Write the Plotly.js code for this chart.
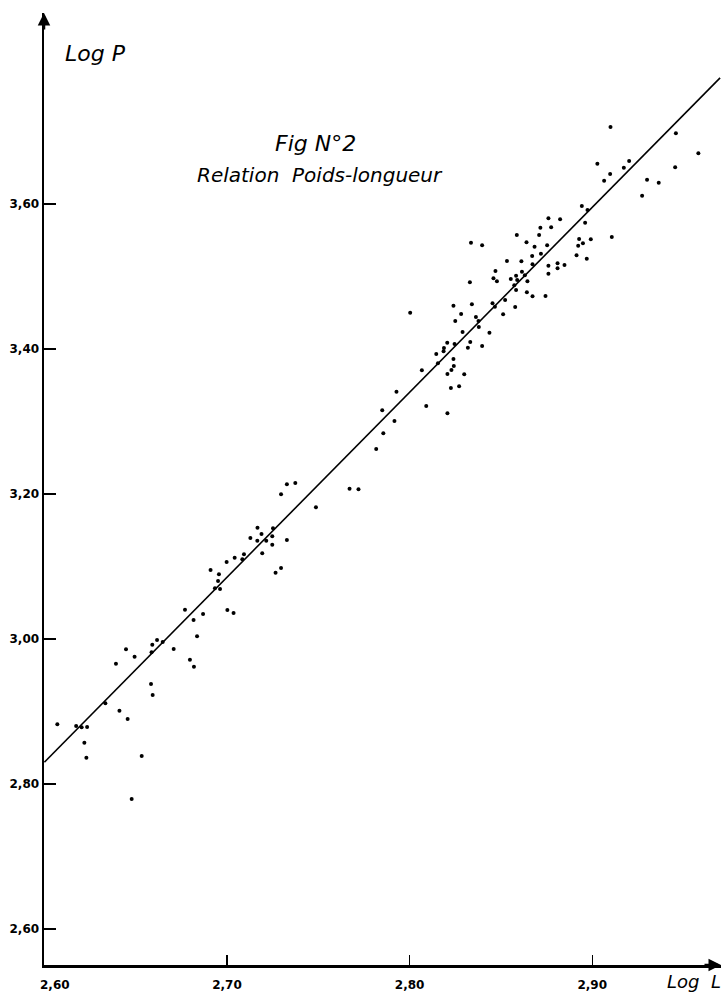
<!DOCTYPE html>
<html>
<head>
<meta charset="utf-8">
<script src="https://cdn.plot.ly/plotly-3.0.1.min.js"></script>
<style>html,body{margin:0;padding:0;background:#fff;}#chart{width:723px;height:992px;}</style>
</head>
<body>
<div id="chart"></div>
<script>
// Observations: log length (x) and log weight (y)
const logL = [
  2.6447,2.6494,2.6392,2.6591,2.6617,2.6648,2.6587,2.6708,2.6797,2.6819,2.6584,2.6593,2.6334,2.6411,2.6456,2.6071,2.6174,2.6204,2.6234,2.6219,2.6230,2.6533,2.6478,
  2.7817,2.7328,2.7374,2.7296,2.7671,2.7720,2.7487,2.7167,2.7128,2.7166,2.7189,2.7215,2.7248,2.7252,2.7248,2.7328,2.7193,2.7093,2.7084,2.7042,2.6998,2.6910,2.6956,2.6951,2.6934,2.6962,2.7296,2.7266,2.6770,2.6817,2.6869,2.7002,2.7036,2.6836,
  2.8533,2.8612,2.8673,2.8470,2.8459,2.8478,2.8554,2.8583,2.8615,2.8631,2.8589,2.8645,2.8330,2.8573,2.8583,2.8642,2.8673,2.8341,2.8240,2.8454,2.8523,2.8467,2.8578,2.8003,2.8282,2.8512,2.8363,2.8250,2.8377,2.8379,2.8290,2.8437,2.8206,2.8188,2.8186,2.8246,2.8332,2.8319,2.8397,2.8146,2.8155,2.8240,2.8242,2.8229,2.8207,2.8299,2.8067,2.8226,2.8271,2.7928,2.8091,2.8207,2.7850,2.7917,2.7856,
  2.9100,2.9458,2.9581,2.9028,2.9202,2.9173,2.9098,2.9065,2.9454,2.9300,2.9364,2.9273,2.8943,2.8974,2.8961,2.8760,2.8824,2.8716,2.8775,2.8587,2.8709,2.9107,2.8640,2.8684,2.8753,2.8928,2.8923,2.8949,2.8992,2.8719,2.8671,2.8914,2.8970,2.8760,2.8810,2.8848,2.8810,2.8760,2.8744,2.8336,2.8397
];
const logP = [
  2.9858,2.9756,2.9659,2.9921,2.9986,2.9959,2.9817,2.9862,2.9714,2.9618,2.9379,2.9228,2.9113,2.9011,2.8897,2.8823,2.8800,2.8782,2.8786,2.8570,2.8363,2.8386,2.7793,
  3.2621,3.2134,3.2152,3.1996,3.2073,3.2065,3.1817,3.1535,3.1393,3.1356,3.1448,3.1356,3.1417,3.1527,3.1301,3.1366,3.1182,3.1168,3.1099,3.1121,3.1062,3.0952,3.0892,3.0800,3.0699,3.0690,3.0979,3.0914,3.0404,3.0262,3.0345,3.0400,3.0359,3.0037,
  3.5214,3.5210,3.5168,3.5076,3.4975,3.4934,3.4966,3.5011,3.5066,3.5017,3.4952,3.4934,3.4920,3.4879,3.4814,3.4782,3.4727,3.4617,3.4597,3.4630,3.4676,3.4583,3.4579,3.4501,3.4483,3.4479,3.4441,3.4386,3.4386,3.4303,3.4234,3.4225,3.4087,3.4014,3.3968,3.4069,3.4097,3.4018,3.4041,3.3931,3.3803,3.3862,3.3766,3.3710,3.3655,3.3651,3.3706,3.3462,3.3486,3.3411,3.3214,3.3113,3.3154,3.3007,3.2837,
  3.7062,3.6975,3.6699,3.6556,3.6593,3.6501,3.6414,3.6321,3.6506,3.6335,3.6294,3.6115,3.5972,3.5917,3.5742,3.5803,3.5789,3.5673,3.5679,3.5572,3.5572,3.5545,3.5472,3.5411,3.5430,3.5517,3.5425,3.5458,3.5513,3.5314,3.5283,3.5292,3.5246,3.5149,3.5182,3.5159,3.5113,3.5039,3.4731,3.5466,3.5430
];
// Fitted line end points
const fitL = [2.600, 2.970];
const fitP = [2.830, 3.774];
// Axis ticks
const xTickVals = [2.60, 2.70, 2.80, 2.90];
const xTickText = ["\u00a0\u00a0\u00a0\u00a0\u00a02,60", "2,70", "2,80", "2,90"];
const yTickVals = [2.60, 2.80, 3.00, 3.20, 3.40, 3.60];
const yTickText = ["2,60", "2,80", "3,00", "3,20", "3,40", "3,60"];

const tickFont = {family: "DejaVu Sans", size: 12, color: "#000", weight: "bold"};
const handFont = {family: "DejaVu Sans", size: 20, color: "#000", style: "italic"};

const traces = [
  {x: fitL, y: fitP, mode: "lines", line: {color: "#000", width: 1.6}, hoverinfo: "skip", cliponaxis: false},
  {x: logL, y: logP, mode: "markers", marker: {color: "#000", size: 4}, cliponaxis: false}
];

const layout = {
  width: 723, height: 992,
  margin: {l: 44, r: 2, t: 13, b: 27},
  paper_bgcolor: "#fff", plot_bgcolor: "#fff",
  showlegend: false,
  xaxis: {
    range: [2.5998, 2.9705], showgrid: false, zeroline: false,
    showline: true, linecolor: "#000", linewidth: 2.5,
    tickmode: "array", tickvals: xTickVals, ticktext: xTickText,
    ticks: "inside", ticklen: 10, tickwidth: 1.5, tickcolor: "#000",
    ticklabelstandoff: 7,
    tickfont: tickFont
  },
  yaxis: {
    range: [2.5503, 3.8634], showgrid: false, zeroline: false,
    showline: true, linecolor: "#000", linewidth: 2.5,
    tickmode: "array", tickvals: yTickVals, ticktext: yTickText,
    ticks: "inside", ticklen: 12, tickwidth: 1.5, tickcolor: "#000",
    tickfont: tickFont
  },
  annotations: [
    {xref: "paper", yref: "paper", x: 0.401, y: 0.878, text: "Fig N°2", showarrow: false, font: {family: "DejaVu Sans", size: 22, color: "#000", style: "italic"}},
    {xref: "paper", yref: "paper", x: 0.408, y: 0.8445, text: "Relation  Poids-longueur", showarrow: false, font: handFont},
    {xref: "paper", yref: "paper", x: 0.028, y: 0.9727, xanchor: "left", text: "Log P", showarrow: false, font: {family: "DejaVu Sans", size: 22, color: "#000", style: "italic"}},
    {xref: "paper", yref: "paper", x: 1.003, y: -0.017, xanchor: "right", yanchor: "middle", text: "Log  L", showarrow: false, font: {family: "DejaVu Sans", size: 18, color: "#000", style: "italic"}},
    {xref: "paper", yref: "paper", x: 0, y: 1, ax: 0, ay: 18, text: "", showarrow: true, arrowhead: 2, arrowsize: 1, arrowwidth: 2.5, arrowcolor: "#000"},
    {xref: "paper", yref: "paper", x: 1, y: 0, ax: -18, ay: 0, text: "", showarrow: true, arrowhead: 2, arrowsize: 1, arrowwidth: 2.5, arrowcolor: "#000"}
  ]
};

Plotly.newPlot("chart", traces, layout, {displayModeBar: false, staticPlot: true});
</script>
</body>
</html>
